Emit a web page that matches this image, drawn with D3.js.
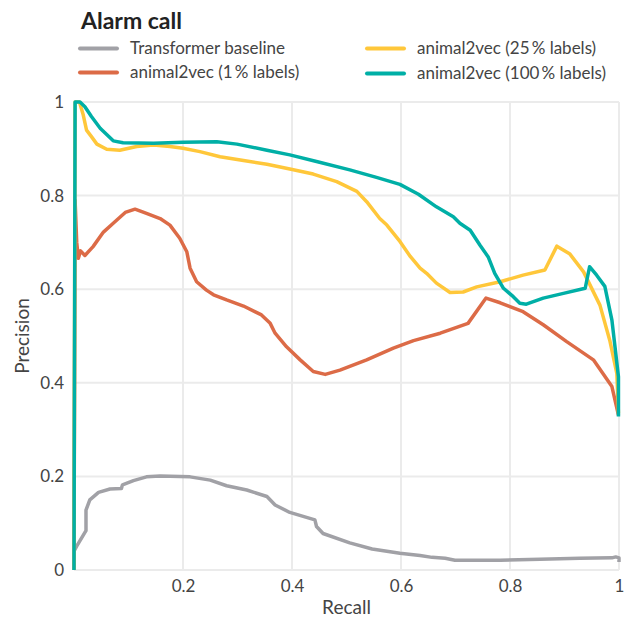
<!DOCTYPE html>
<html>
<head>
<meta charset="utf-8">
<script src="https://cdn.jsdelivr.net/npm/d3@7"></script>
<style>
  body { margin: 0; background: #fff; }
  text { font-family: Lato, "Open Sans", sans-serif; }
</style>
</head>
<body>
<svg id="chart" width="630" height="622"></svg>
<script>
// series names and colours
let seriesNames = ["Transformer baseline", "animal2vec (1\u2009% labels)", "animal2vec (25\u2009% labels)", "animal2vec (100\u2009% labels)"];
let seriesColors = ["#a1a1a6", "#dc6b47", "#ffc73a", "#00afa6"];

let xTicks = [0.2, 0.4, 0.6, 0.8, 1];
let yTicks = [0, 0.2, 0.4, 0.6, 0.8, 1];

// [recall, precision]
let baseline = [
  [0, 0.04], [0.005, 0.051], [0.022, 0.084], [0.022, 0.128], [0.029, 0.15], [0.045, 0.166],
  [0.066, 0.173], [0.087, 0.174], [0.089, 0.182], [0.109, 0.191], [0.133, 0.199], [0.158, 0.201],
  [0.213, 0.199], [0.25, 0.192], [0.28, 0.18], [0.317, 0.171], [0.354, 0.157], [0.369, 0.139],
  [0.396, 0.123], [0.442, 0.107], [0.445, 0.093], [0.457, 0.078], [0.506, 0.058], [0.547, 0.045],
  [0.598, 0.036], [0.635, 0.031], [0.657, 0.027], [0.681, 0.025], [0.699, 0.021], [0.782, 0.021],
  [0.855, 0.023], [0.928, 0.025], [0.987, 0.026], [0.994, 0.028], [1, 0.026], [1, 0.017]
];

let labels1 = [
  [0, 0], [0.002, 0.79], [0.005, 0.7], [0.008, 0.666], [0.012, 0.682], [0.02, 0.672],
  [0.035, 0.691], [0.054, 0.722], [0.072, 0.741], [0.094, 0.764], [0.112, 0.771], [0.133, 0.762],
  [0.158, 0.751], [0.176, 0.737], [0.194, 0.709], [0.207, 0.68], [0.213, 0.645], [0.225, 0.616],
  [0.243, 0.598], [0.256, 0.588], [0.28, 0.577], [0.311, 0.564], [0.344, 0.545], [0.36, 0.527],
  [0.369, 0.506], [0.39, 0.477], [0.415, 0.449], [0.439, 0.424], [0.461, 0.418], [0.488, 0.427],
  [0.537, 0.449], [0.586, 0.474], [0.623, 0.49], [0.672, 0.506], [0.723, 0.527], [0.756, 0.581],
  [0.782, 0.571], [0.824, 0.552], [0.861, 0.524], [0.904, 0.488], [0.953, 0.449], [0.987, 0.392],
  [0.999, 0.331]
];

let labels25 = [
  [0, 0], [0.002, 1], [0.01, 1], [0.017, 0.972], [0.023, 0.94], [0.032, 0.926], [0.042, 0.91],
  [0.06, 0.899], [0.084, 0.897], [0.115, 0.905], [0.146, 0.908], [0.176, 0.905], [0.2, 0.901],
  [0.231, 0.894], [0.268, 0.883], [0.311, 0.875], [0.354, 0.867], [0.396, 0.857], [0.439, 0.846],
  [0.482, 0.83], [0.519, 0.809], [0.537, 0.787], [0.561, 0.751], [0.574, 0.737], [0.598, 0.702],
  [0.617, 0.67], [0.635, 0.645], [0.647, 0.634], [0.665, 0.613], [0.69, 0.593], [0.714, 0.594],
  [0.739, 0.605], [0.782, 0.616], [0.824, 0.63], [0.864, 0.641], [0.886, 0.692], [0.91, 0.675],
  [0.935, 0.637], [0.965, 0.566], [0.983, 0.491], [0.996, 0.42], [0.999, 0.335]
];

let labels100 = [
  [0, 0], [0.002, 1], [0.011, 1], [0.02, 0.99], [0.032, 0.969], [0.048, 0.944], [0.072, 0.917],
  [0.09, 0.913], [0.146, 0.912], [0.2, 0.914], [0.262, 0.915], [0.299, 0.91], [0.354, 0.897],
  [0.396, 0.887], [0.445, 0.873], [0.506, 0.855], [0.555, 0.839], [0.598, 0.824], [0.632, 0.803],
  [0.665, 0.776], [0.696, 0.755], [0.708, 0.741], [0.727, 0.726], [0.745, 0.694], [0.76, 0.669],
  [0.772, 0.634], [0.788, 0.602], [0.806, 0.584], [0.818, 0.57], [0.83, 0.568], [0.861, 0.581],
  [0.898, 0.591], [0.938, 0.602], [0.946, 0.648], [0.959, 0.63], [0.974, 0.606], [0.987, 0.534],
  [0.994, 0.463], [0.999, 0.413], [0.999, 0.328]
];

let allSeries = [baseline, labels1, labels25, labels100];

let chart = d3.select("#chart");

let x = d3.scaleLinear().domain([0, 1]).range([74, 619]);
let y = d3.scaleLinear().domain([0, 1]).range([570, 102]);

// grid
chart.selectAll("xgrid")
    .data(xTicks).enter()
    .append("line")
    .attr("x1", d => x(d)).attr("x2", d => x(d))
    .attr("y1", y(0)).attr("y2", y(1))
    .style("stroke", "#ebebeb")
    .style("stroke-width", 2);

chart.selectAll("ygrid")
    .data(yTicks).enter()
    .append("line")
    .attr("x1", x(0)).attr("x2", x(1))
    .attr("y1", d => y(d)).attr("y2", d => y(d))
    .style("stroke", "#ebebeb")
    .style("stroke-width", 2);

// axes (labels only)
let xAxis = d3.axisBottom(x).tickValues(xTicks).tickSize(0).tickPadding(10).tickFormat(d3.format("~g"));
chart.append("g")
    .attr("transform", "translate(0," + y(0) + ")")
    .call(xAxis)
    .call(g => g.select(".domain").remove())
    .selectAll("text")
    .style("font-size", "17px")
    .style("font-family", "Lato, sans-serif")
    .style("fill", "#444");

let yAxis = d3.axisLeft(y).tickValues(yTicks).tickSize(0).tickPadding(10).tickFormat(d3.format("~g"));
chart.append("g")
    .attr("transform", "translate(" + x(0) + ",0)")
    .call(yAxis)
    .call(g => g.select(".domain").remove())
    .selectAll("text")
    .style("font-size", "17px")
    .style("font-family", "Lato, sans-serif")
    .style("fill", "#444");

chart.append("text")
    .text("Recall")
    .attr("x", (x(0) + x(1)) / 2)
    .attr("y", 614)
    .style("text-anchor", "middle")
    .style("font-size", "19px")
    .style("fill", "#444");

chart.append("text")
    .text("Precision")
    .attr("transform", "translate(29," + ((y(0) + y(1)) / 2) + ") rotate(-90)")
    .style("text-anchor", "middle")
    .style("font-size", "19px")
    .style("fill", "#444");

// curves
let line = d3.line()
    .x(d => x(d[0]))
    .y(d => y(d[1]));

chart.selectAll("curve")
    .data(allSeries).enter()
    .append("path")
    .attr("d", d => line(d))
    .style("fill", "none")
    .style("stroke", (d, i) => seriesColors[i])
    .style("stroke-width", 3.5)
    .style("stroke-linejoin", "round");

// title
chart.append("text")
    .text("Alarm call")
    .attr("x", 81)
    .attr("y", 29)
    .style("font-size", "23px")
    .style("font-weight", "bold")
    .style("fill", "#222");

// legend
let legendX = [80, 80, 367, 367];
let legendY = [48.5, 72.5, 48.5, 73.5];

chart.selectAll("legendline")
    .data(seriesNames).enter()
    .append("line")
    .attr("x1", (d, i) => legendX[i]).attr("x2", (d, i) => legendX[i] + 37)
    .attr("y1", (d, i) => legendY[i]).attr("y2", (d, i) => legendY[i])
    .style("stroke", (d, i) => seriesColors[i])
    .style("stroke-width", 4)
    .style("stroke-linecap", "round");

chart.selectAll("legendlabel")
    .data(seriesNames).enter()
    .append("text")
    .text(d => d)
    .attr("x", (d, i) => legendX[i] + 50)
    .attr("y", (d, i) => legendY[i])
    .attr("dy", "0.35em")
    .style("font-size", "17px")
    .style("fill", "#444");
</script>
</body>
</html>
